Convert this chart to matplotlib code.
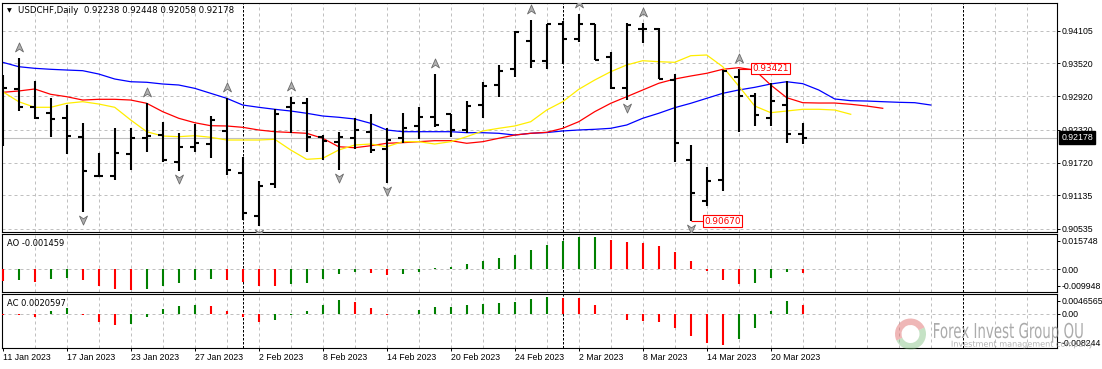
import numpy as np
import matplotlib
matplotlib.use("Agg")
import matplotlib.pyplot as plt
from matplotlib.path import Path
from matplotlib.patches import PathPatch, Wedge
from matplotlib.textpath import TextPath
from matplotlib.font_manager import FontProperties
from matplotlib.transforms import Affine2D, ScaledTranslation, blended_transform_factory

W, H = 1102, 369
plt.rcParams["font.family"] = ["DejaVu Sans"]
plt.rcParams["font.size"] = 6
TICKFONT = "Liberation Sans"

# USDCHF daily bars, 11 Jan .. 22 Mar 2023
opens = [0.93216, 0.93048, 0.92735, 0.92616, 0.92526, 0.92194, 0.91491, 0.91485, 0.91876, 0.92176,
         0.92230, 0.91732, 0.92013, 0.92057, 0.92302, 0.91534, 0.90769, 0.91335, 0.92735, 0.92807,
         0.92183, 0.92104, 0.92165, 0.92284, 0.91967, 0.92165, 0.92392, 0.92554, 0.92598, 0.92315,
         0.92765, 0.93126, 0.93409, 0.93925, 0.93564, 0.94220, 0.93955, 0.94220, 0.93636, 0.93077,
         0.94136, 0.94136, 0.93216, 0.91774, 0.91034, 0.91413, 0.93276, 0.92928, 0.92536, 0.92765,
         0.92238]
highs = [0.93306, 0.93607, 0.93198, 0.92886, 0.92765, 0.92446, 0.91894, 0.92345, 0.92345, 0.92796,
         0.92453, 0.92255, 0.92417, 0.92567, 0.92886, 0.91833, 0.91395, 0.92688, 0.92915, 0.92886,
         0.92224, 0.92284, 0.92526, 0.92598, 0.92345, 0.92616, 0.92724, 0.93324, 0.92598, 0.92837,
         0.93185, 0.93487, 0.94105, 0.94298, 0.94220, 0.94285, 0.94406, 0.94220, 0.93726, 0.94238,
         0.94238, 0.94148, 0.93324, 0.92044, 0.91642, 0.93396, 0.93421, 0.92976, 0.93157, 0.93198,
         0.92448]
lows = [0.92031, 0.92657, 0.92513, 0.92183, 0.91876, 0.90841, 0.91473, 0.91413, 0.91593, 0.91912,
        0.91732, 0.91581, 0.91923, 0.91815, 0.91503, 0.90692, 0.90584, 0.91263, 0.92266, 0.91912,
        0.91774, 0.91593, 0.91972, 0.91905, 0.91364, 0.92075, 0.92147, 0.92374, 0.92194, 0.92255,
        0.92526, 0.92904, 0.93265, 0.93438, 0.93409, 0.93499, 0.93907, 0.93577, 0.93048, 0.92855,
        0.93878, 0.93234, 0.91743, 0.90670, 0.90950, 0.91220, 0.92284, 0.92387, 0.92387, 0.92086,
        0.92058]
closes = [0.93077, 0.92735, 0.92526, 0.92513, 0.92212, 0.91581, 0.91491, 0.91905, 0.92165, 0.92212,
          0.91774, 0.92003, 0.92075, 0.92495, 0.91593, 0.90813, 0.91310, 0.92598, 0.92807, 0.92194,
          0.92122, 0.92194, 0.92315, 0.91954, 0.92134, 0.92356, 0.92554, 0.92405, 0.92315, 0.92753,
          0.93108, 0.93384, 0.94087, 0.93564, 0.94220, 0.93955, 0.94220, 0.93577, 0.93077, 0.94208,
          0.94136, 0.93234, 0.92086, 0.91173, 0.91400, 0.93378, 0.92928, 0.92585, 0.92843, 0.92237,
          0.92178]

# Alligator lines (jaw / teeth / lips, drawn shifted into the future)
jaw = [0.93535, 0.93456, 0.93427, 0.93409, 0.93396, 0.93384, 0.93324, 0.93234, 0.93185, 0.93175,
       0.93144, 0.93126, 0.93066, 0.92976, 0.92886, 0.92765, 0.92724, 0.92688, 0.92657, 0.92616,
       0.92567, 0.92544, 0.92513, 0.92435, 0.92315, 0.92284, 0.92284, 0.92284, 0.92284, 0.92266,
       0.92266, 0.92255, 0.92224, 0.92255, 0.92269, 0.92297, 0.92315, 0.92327, 0.92345, 0.92405,
       0.92526, 0.92616, 0.92717, 0.92796, 0.92886, 0.92976, 0.93036, 0.93084, 0.93144, 0.93185,
       0.93150, 0.93036, 0.92874, 0.92843, 0.92837, 0.92825, 0.92814, 0.92807, 0.92765]
teeth = [0.92994, 0.93018, 0.93054, 0.92958, 0.92915, 0.92855, 0.92868, 0.92868, 0.92855, 0.92796,
         0.92645, 0.92526, 0.92446, 0.92392, 0.92387, 0.92363, 0.92315, 0.92284, 0.92270, 0.92255,
         0.92165, 0.92013, 0.91995, 0.92031, 0.92075, 0.92086, 0.92104, 0.92122, 0.92122, 0.92075,
         0.92104, 0.92165, 0.92224, 0.92255, 0.92273, 0.92345, 0.92464, 0.92645, 0.92796, 0.92915,
         0.93036, 0.93157, 0.93234, 0.93288, 0.93337, 0.93409, 0.93438, 0.93396, 0.93126, 0.92897,
         0.92807, 0.92801, 0.92801, 0.92778, 0.92747, 0.92706]
lips = [0.93005, 0.92825, 0.92724, 0.92724, 0.92796, 0.92825, 0.92783, 0.92724, 0.92495, 0.92284,
        0.92206, 0.92194, 0.92212, 0.92183, 0.92134, 0.92134, 0.92134, 0.92147, 0.91954, 0.91786,
        0.91804, 0.91954, 0.92044, 0.92062, 0.92013, 0.92104, 0.92104, 0.92062, 0.92104, 0.92194,
        0.92297, 0.92345, 0.92387, 0.92464, 0.92675, 0.92825, 0.93048, 0.93216, 0.93366, 0.93487,
        0.93564, 0.93546, 0.93535, 0.93654, 0.93667, 0.93456, 0.93108, 0.92747, 0.92627, 0.92657,
        0.92688, 0.92688, 0.92675, 0.92598]

ao = [-0.00517, -0.00473, -0.00561, -0.00443, -0.00369, -0.00487, -0.00709, -0.00842, -0.00886, -0.00842,
      -0.00709, -0.00591, -0.00487, -0.00443, -0.00487, -0.00561, -0.00709, -0.00724, -0.00635, -0.00606,
      -0.00428, -0.00207, -0.00118, -0.00162, -0.00251, -0.00207, -0.00118, 0.00059, 0.00103, 0.00236,
      0.00384, 0.00502, 0.00650, 0.00857, 0.01078, 0.01240, 0.01433, 0.01438, 0.01300, 0.01211,
      0.01167, 0.01034, 0.00768, 0.00369, -0.00059, -0.00473, -0.00650, -0.00606, -0.00384, -0.00110,
      -0.001459]
ac = [-0.00024, -0.00040, -0.00080, 0.00072, 0.00135, -0.00032, -0.00207, -0.00271, -0.00247, -0.00072,
      0.00103, 0.00175, 0.00199, 0.00175, 0.00072, -0.00088, -0.00191, -0.00151, -0.00040, 0.00056,
      0.00199, 0.00318, 0.00271, 0.00127, -0.00040, 0.00005, 0.00080, 0.00151, 0.00155, 0.00199,
      0.00223, 0.00247, 0.00271, 0.00342, 0.00390, 0.00385, 0.00366, 0.00199, -0.00010, -0.00159,
      -0.00165, -0.00207, -0.00350, -0.00541, -0.00708, -0.00756, -0.00613, -0.00350, 0.00056, 0.00295,
      0.0020597]

fractal_up = [1, 9, 14, 18, 27, 33, 36, 40, 46]
fractal_dn = [5, 11, 16, 21, 24, 39, 43]
marked_high, marked_low = 46, 43

date_ticks = [0, 4, 8, 12, 16, 20, 24, 28, 32, 36, 40, 44, 48]
date_labels = ["11 Jan 2023", "17 Jan 2023", "23 Jan 2023", "27 Jan 2023", "2 Feb 2023",
               "8 Feb 2023", "14 Feb 2023", "20 Feb 2023", "24 Feb 2023", "2 Mar 2023",
               "8 Mar 2023", "14 Mar 2023", "20 Mar 2023"]
separators = [15, 35, 60]
price_ticks = [0.90535, 0.91135, 0.91720, 0.92320, 0.92920, 0.93520, 0.94105]
price_labels = ["0.90535", "0.91135", "0.91720", "0.92320", "0.92920", "0.93520", "0.94105"]
ao_range = (-0.009948, 0.015748)
ac_range = (-0.008244, 0.0046565)

GRID = "#c0c0c0"
GREEN, RED = "#008000", "#ff0000"

fig = plt.figure(figsize=(W / 100, H / 100), dpi=100)
fig.patch.set_facecolor("white")


def px_axes(top, bottom):
    return fig.add_axes([2 / W, 1 - bottom / H, 1054.5 / W, (bottom - top) / H])


ax_m = px_axes(2.7, 231.5)
ax_ao = px_axes(233.7, 292.0)
ax_ac = px_axes(294.3, 348.3)
x = np.arange(len(closes))
xlim = (-0.044, 65.86)

for ax in (ax_m, ax_ao, ax_ac):
    ax.set_xlim(*xlim)
    for s in ax.spines.values():
        s.set_linewidth(0.8)
        s.set_color("black")
    ax.yaxis.tick_right()
    ax.tick_params(axis="y", left=False, right=True, length=2.2, width=0.7, pad=1.5,
                   labelsize=6.3, colors="black")
    ax.tick_params(axis="x", bottom=False, labelbottom=False)
    for g in np.arange(2, 66, 2):
        if g not in separators:
            ax.axvline(g, color=GRID, lw=0.72, ls=(0, (3, 3)), zorder=0)
    for sp in separators:
        ax.axvline(sp, color="black", lw=0.72, ls=(0, (2.5, 1.5)), zorder=1)

# ---- main price panel
ax_m.set_ylim(0.904845, 0.946099)
ax_m.set_yticks(price_ticks)
ax_m.set_yticklabels(price_labels)
for p in price_ticks:
    ax_m.axhline(p, color=GRID, lw=0.72, ls=(0, (3, 3)), zorder=0)
ax_m.axhline(closes[-1], color=GRID, lw=0.8, zorder=1)

ax_m.plot(np.arange(len(jaw)), jaw, color="#0000ff", lw=0.9, zorder=2)
ax_m.plot(np.arange(len(teeth)), teeth, color="#ff0000", lw=0.9, zorder=2)
ax_m.plot(np.arange(len(lips)), lips, color="#ffee00", lw=0.9, zorder=2)

ax_m.vlines(x, lows, highs, color="black", lw=1.5, zorder=3)
ax_m.hlines(opens, x - 0.27, x, color="black", lw=1.5, zorder=3)
ax_m.hlines(closes, x, x + 0.27, color="black", lw=1.5, zorder=3)

up_path = Path([(0, 1), (0.72, -0.62), (0, -0.12), (-0.72, -0.62), (0, 1)],
               [Path.MOVETO, Path.LINETO, Path.LINETO, Path.LINETO, Path.CLOSEPOLY])
dn_path = Path([(0, -1), (0.72, 0.62), (0, 0.12), (-0.72, 0.62), (0, -1)],
               [Path.MOVETO, Path.LINETO, Path.LINETO, Path.LINETO, Path.CLOSEPOLY])
hi = np.array(highs)
lo = np.array(lows)
ax_m.plot(fractal_up, hi[fractal_up], ls="none", marker=up_path, ms=8, mfc="#b0b0b0",
          mec="#6a6a6a", mew=0.6, zorder=4,
          transform=ax_m.transData + ScaledTranslation(0, 0.10, fig.dpi_scale_trans))
ax_m.plot(fractal_dn, lo[fractal_dn], ls="none", marker=dn_path, ms=8, mfc="#b0b0b0",
          mec="#6a6a6a", mew=0.6, zorder=4,
          transform=ax_m.transData + ScaledTranslation(0, -0.07, fig.dpi_scale_trans))

for idx, price in ((marked_high, highs[marked_high]), (marked_low, lows[marked_low])):
    ax_m.hlines(price, idx, idx + 0.75, color=RED, lw=0.8, zorder=4)
    ax_m.text(idx + 0.86, price, f"{price:.5f}", color=RED, fontsize=6.4, ha="left",
              va="center", zorder=6,
              bbox=dict(boxstyle="square,pad=0.15", fc="white", ec=RED, lw=0.8))

bt = blended_transform_factory(ax_m.transAxes, ax_m.transData)
ax_m.text(1.0, closes[-1], f"{closes[-1]:.5f}", color="white", fontsize=6.3, ha="left",
          va="center", clip_on=False, zorder=10, family=TICKFONT,
          transform=bt + ScaledTranslation(0.047, 0, fig.dpi_scale_trans),
          bbox=dict(boxstyle="square,pad=0.2", fc="black", ec="black"))

# ---- AO / AC panels
def osc_panel(ax, vals, yr, top_lbl, bot_lbl):
    ax.set_ylim(*yr)
    span = yr[1] - yr[0]
    ax.set_yticks([yr[0] + 0.108 * span, 0, yr[0] + 0.88 * span])
    ax.set_yticklabels([bot_lbl, "0.00", top_lbl])
    ax.axhline(0, color=GRID, lw=0.72, ls=(0, (3, 3)), zorder=0)
    v = np.array(vals)
    cols = [RED] + [GREEN if v[i] > v[i - 1] else RED for i in range(1, len(v))]
    ax.vlines(np.arange(len(v)), 0, v, colors=cols, lw=1.5, zorder=3)


osc_panel(ax_ao, ao, ao_range, "0.015748", "-0.009948")
osc_panel(ax_ac, ac, ac_range, "0.0046565", "-0.008244")

ax_ac.set_xticks(date_ticks)
ax_ac.set_xticklabels(date_labels)
ax_ac.tick_params(axis="x", bottom=True, labelbottom=True, length=2.2, width=0.7, pad=1.0,
                  labelsize=6.3)
for lbl in ax_ac.get_xticklabels():
    lbl.set_horizontalalignment("left")

for ax in (ax_m, ax_ao, ax_ac):
    for lbl in ax.get_yticklabels() + ax.get_xticklabels():
        lbl.set_family(TICKFONT)

fig.text(7 / W, 1 - 243 / H, f"AO {ao[-1]:.6f}", va="center", ha="left", fontsize=6)
fig.text(7 / W, 1 - 304 / H, f"AC {ac[-1]:.7f}", va="center", ha="left", fontsize=6)

# ---- header
fig.text(9.7 / W, 1 - 10.7 / H, "\u25bc", va="center", ha="center", fontsize=4.5)
fig.text(18.3 / W, 1 - 10.7 / H,
         f"USDCHF,Daily  {opens[-1]:.5f} {highs[-1]:.5f} {lows[-1]:.5f} {closes[-1]:.5f}",
         va="center", ha="left", fontsize=6.2)

# ---- watermark
pix = Affine2D().scale(1 / W, 1 / H) + fig.transFigure


def path_text(s, x0, x1, baseline, cap, color, alpha):
    tp = TextPath((0, 0), s, size=1, prop=FontProperties(family="DejaVu Sans"))
    ext = tp.get_extents()
    tr = (Affine2D().translate(-ext.x0, 0).scale((x1 - x0) / ext.width, cap / 0.73)
          .translate(x0, H - baseline) + pix)
    fig.add_artist(PathPatch(tp, transform=tr, fc=color, ec="none", alpha=alpha, zorder=20))


fig.add_artist(Wedge((910.5, H - 334), 15.5, 25, 205, width=6.5, transform=pix,
                     fc="#e07070", ec="none", alpha=0.5, zorder=20))
fig.add_artist(Wedge((910.5, H - 334), 15.5, 205, 385, width=6.5, transform=pix,
                     fc="#80c080", ec="none", alpha=0.45, zorder=20))
path_text("Forex Invest Group OU", 934, 1082.7, 338, 15, "#8f8f8f", 0.75)
path_text("Investment management company", 951.7, 1093, 346.7, 6, "#9a9a9a", 0.75)

fig.savefig("out.png", dpi=100)
